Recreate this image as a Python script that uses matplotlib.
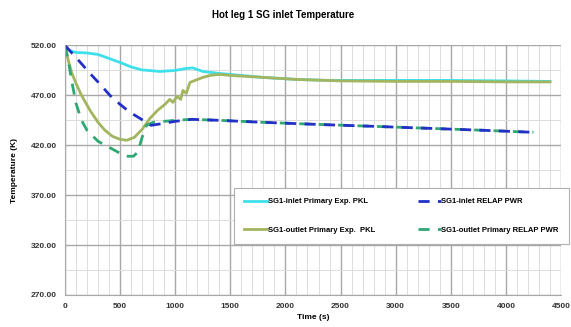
import matplotlib
matplotlib.use("Agg")
from matplotlib import pyplot as plt
from matplotlib.ticker import MultipleLocator

plt.rcParams["font.family"] = ["Liberation Sans", "DejaVu Sans"]

# SG1 inlet, experiment (PKL)
t_in_exp = [0, 40, 100, 200, 300, 400, 500, 600, 700, 860, 1000, 1100, 1160, 1250, 1400,
            1600, 1800, 2100, 2400, 2700, 3000, 3500, 4000, 4400]
T_in_exp = [520, 515, 513, 512.5, 511, 507, 503, 498.5, 495.5, 494, 495, 497, 497.5, 494, 492,
            490, 488, 486, 485, 485, 485, 485, 484.5, 484]

# SG1 outlet, experiment (PKL)
t_out_exp = [0, 30, 60, 100, 150, 227, 300, 363, 430, 500, 560, 630, 700, 771, 840, 907, 950,
             980, 1016, 1050, 1070, 1100, 1134, 1180, 1250, 1316, 1400, 1500, 1800, 2100, 2500,
             3000, 3500, 4000, 4400]
T_out_exp = [520, 505, 493, 482, 470, 455, 443, 435, 429, 426, 425, 428, 436, 447, 455, 461, 466,
             463, 469, 466, 475, 472, 483, 485, 488, 490, 491, 490, 488, 486, 484.5,
             484, 484, 483.5, 483.5]

# SG1 inlet, RELAP PWR
t_in_rel = [0, 100, 227, 320, 408, 500, 590, 680, 780, 900, 1000, 1150, 1400, 1800, 2270,
            2800, 3300, 3800, 4250]
T_in_rel = [520, 508, 492, 481, 470, 461, 453, 447, 440, 442, 444, 446, 445, 443, 441,
            439, 437, 435, 433]

# SG1 outlet, RELAP PWR
t_out_rel = [0, 30, 60, 100, 150, 200, 300, 400, 500, 560, 620, 660, 700, 740, 800, 1000,
             1150, 1400, 1800, 2270, 2800, 3300, 3800, 4250]
T_out_rel = [520, 505, 485, 462, 445, 435, 424, 418, 412, 409, 409, 413, 428, 440, 443, 445,
             446, 445, 443, 441, 439, 437, 435, 433]

fig = plt.figure(figsize=(5.71, 3.27), dpi=100)
ax = fig.add_axes([0.1138, 0.0979, 0.8687, 0.7630])

ax.plot(t_in_exp, T_in_exp, color="#3ee0ea", lw=2.0, label="SG1-inlet Primary Exp. PKL")
ax.plot(t_out_exp, T_out_exp, color="#a3b55e", lw=2.0, label="SG1-outlet Primary Exp.  PKL")
ax.plot(t_out_rel, T_out_rel, color="#2fa873", lw=2.0, ls=(0, (4, 3)),
        label="SG1-outlet Primary RELAP PWR")
ax.plot(t_in_rel, T_in_rel, color="#2330c8", lw=2.0, ls=(0, (4, 3)),
        label="SG1-inlet RELAP PWR")

ax.set_xlim(0, 4500)
ax.set_ylim(270, 520)
ax.xaxis.set_major_locator(MultipleLocator(500))
ax.xaxis.set_minor_locator(MultipleLocator(100))
ax.yaxis.set_major_locator(MultipleLocator(50, offset=20))
ax.yaxis.set_minor_locator(MultipleLocator(25, offset=20))
ax.yaxis.set_major_formatter(lambda v, p: f"{v:.2f}")
ax.grid(which="major", color="#a8a8a8", lw=1.0)
ax.grid(which="minor", color="#dcdcdc", lw=0.7)
ax.set_axisbelow(True)
for s in ["top", "right"]:
    ax.spines[s].set_visible(False)
for s in ["left", "bottom"]:
    ax.spines[s].set_color("#a8a8a8")
ax.tick_params(which="both", length=0, labelsize=6, colors="#333333", pad=6)
for lab in ax.get_xticklabels() + ax.get_yticklabels():
    lab.set_fontweight("bold")

ax.set_xlabel("Time (s)", fontsize=6, fontweight="bold", labelpad=3)
ax.set_ylabel("Temperature (K)", fontsize=6, fontweight="bold", labelpad=9)
fig.text(0.496, 0.954, "Hot leg 1 SG inlet Temperature", fontsize=7, fontweight="bold",
         ha="center", va="center")

h, l = ax.get_legend_handles_labels()
order = [0, 1, 3, 2]
leg = fig.legend([h[i] for i in order], [l[i] for i in order], ncol=2,
                 loc="upper left", bbox_to_anchor=(234 / 571, 1 - 188 / 327),
                 borderaxespad=0,
                 prop={"size": 5.5, "weight": "bold"}, frameon=True, fancybox=False,
                 edgecolor="#b0b0b0", framealpha=1, handlelength=3, handletextpad=0.1,
                 labelspacing=2.8, columnspacing=5.6, borderpad=1.3)
leg.get_frame().set_linewidth(0.8)

fig.savefig("out.png", dpi=100)
